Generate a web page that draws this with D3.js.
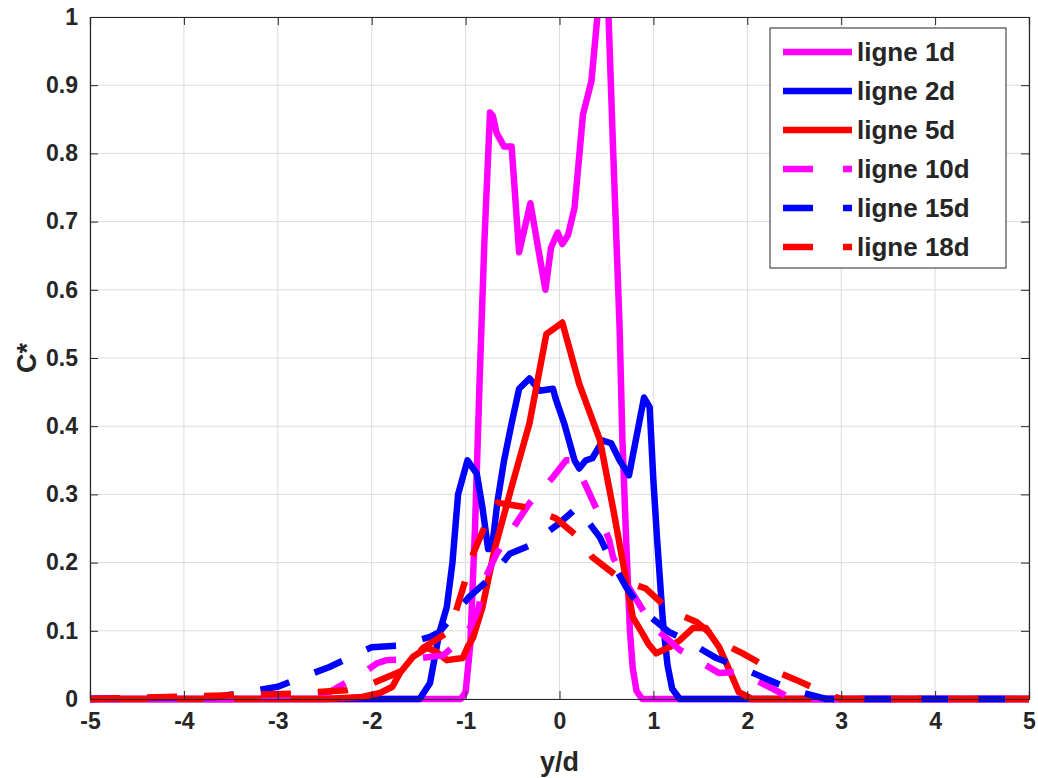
<!DOCTYPE html>
<html><head><meta charset="utf-8">
<script src="https://cdn.jsdelivr.net/npm/d3@7"></script>
<style>body{margin:0;background:#fff}svg{display:block}text{font-family:"Liberation Sans",Arial,sans-serif;font-weight:bold;fill:#262626}</style>
</head><body><svg id="c" width="1038" height="778"></svg>
<script>
const seriesNames = ["ligne 1d","ligne 2d","ligne 5d","ligne 10d","ligne 15d","ligne 18d"];
const seriesColors = ["#ff00ff","#0000ff","#ff0000","#ff00ff","#0000ff","#ff0000"];
const seriesDashed = [false,false,false,true,true,true];

const x1d = [-5,-1.05,-1.0,-0.95,-0.9,-0.85,-0.8,-0.74,-0.71,-0.67,-0.59,-0.51,-0.43,-0.31,-0.15,-0.09,-0.02,0.03,0.09,0.16,0.25,0.34,0.41,0.52,0.57,0.64,0.67,0.71,0.75,0.78,0.82,0.88,5];
const y1d = [0,0,0.01,0.08,0.25,0.47,0.67,0.86,0.855,0.83,0.81,0.81,0.655,0.727,0.6,0.662,0.684,0.667,0.68,0.72,0.857,0.906,1.01,1.01,0.809,0.545,0.38,0.233,0.1,0.045,0.012,0,0];

const x2d = [-5,-1.49,-1.38,-1.28,-1.2,-1.14,-1.08,-0.98,-0.88,-0.82,-0.76,-0.72,-0.66,-0.59,-0.51,-0.43,-0.32,-0.21,-0.07,-0.04,0.05,0.16,0.21,0.28,0.35,0.46,0.55,0.64,0.74,0.9,0.96,1.0,1.04,1.1,1.15,1.2,1.28,5];
const y2d = [0,0,0.023,0.097,0.135,0.2,0.3,0.35,0.33,0.28,0.22,0.22,0.29,0.35,0.404,0.455,0.47,0.452,0.455,0.44,0.404,0.35,0.338,0.35,0.353,0.379,0.375,0.35,0.328,0.442,0.428,0.32,0.233,0.116,0.05,0.015,0,0];

const x5d = [-5,-2.5,-2.1,-1.91,-1.78,-1.7,-1.56,-1.41,-1.31,-1.2,-1.03,-0.98,-0.92,-0.82,-0.69,-0.5,-0.32,-0.14,0.03,0.21,0.43,0.57,0.71,0.78,0.88,0.95,1.03,1.17,1.28,1.42,1.56,1.7,1.81,1.91,2.05,5];
const y5d = [0,0,0.003,0.009,0.018,0.038,0.062,0.075,0.069,0.057,0.06,0.076,0.09,0.135,0.22,0.316,0.404,0.535,0.552,0.462,0.38,0.28,0.174,0.12,0.097,0.08,0.067,0.076,0.086,0.104,0.104,0.076,0.042,0.01,0,0];

const x10d = [-5,-3.5,-3.16,-2.45,-2.05,-1.95,-1.84,-1.6,-1.24,-1.1,-0.95,-0.87,-0.78,-0.67,-0.46,-0.32,-0.07,0.07,0.15,0.28,0.41,0.53,0.57,0.71,0.92,1.05,1.2,1.28,1.38,1.7,1.91,2.23,2.48,5];
const y10d = [0,0,0.003,0.01,0.042,0.052,0.057,0.058,0.064,0.08,0.105,0.13,0.18,0.213,0.258,0.287,0.325,0.35,0.35,0.313,0.274,0.233,0.208,0.17,0.123,0.1,0.082,0.072,0.064,0.038,0.04,0.018,0,0];

const x15d = [-5,-3.65,-3.0,-2.45,-2.0,-1.73,-1.38,-1.28,-0.96,-0.74,-0.53,-0.32,0,0.19,0.43,0.53,0.71,0.88,1.17,1.35,1.67,1.91,2.23,2.48,2.84,5];
const y15d = [0,0.003,0.018,0.047,0.076,0.078,0.091,0.098,0.15,0.177,0.213,0.225,0.258,0.281,0.237,0.208,0.164,0.13,0.098,0.086,0.06,0.047,0.028,0.013,0,0];

const x18d = [-5,-2.8,-2.27,-1.99,-1.7,-1.45,-1.2,-1.1,-0.99,-0.92,-0.78,-0.66,-0.32,-0.04,0.21,0.35,0.67,0.92,1.17,1.46,1.73,1.95,2.27,2.52,2.84,3.0,5];
const y18d = [0,0.008,0.013,0.023,0.04,0.075,0.097,0.13,0.18,0.213,0.258,0.288,0.28,0.265,0.236,0.208,0.174,0.162,0.13,0.113,0.082,0.067,0.042,0.028,0.008,0,0];

const xTicks = [-5,-4,-3,-2,-1,0,1,2,3,4,5];
const yTicks = [0,0.1,0.2,0.3,0.4,0.5,0.6,0.7,0.8,0.9,1];
const xLabel = "y/d", yLabel = "C*";

const seriesX = [x1d,x2d,x5d,x10d,x15d,x18d];
const seriesY = [y1d,y2d,y5d,y10d,y15d,y18d];

const L=90, R=1029, T=17, B=699;
const svg = d3.select("#c");
const x = d3.scaleLinear().domain([-5,5]).range([L,R]);
const y = d3.scaleLinear().domain([0,1]).range([B,T]);
const axisCol = "#262626";

// grid
const g = svg.append("g");
g.selectAll(".gx").data(xTicks).enter().append("line")
  .attr("x1",d=>x(d)).attr("x2",d=>x(d)).attr("y1",T).attr("y2",B)
  .attr("stroke","#dcdcdc").attr("stroke-width",1);
g.selectAll(".gy").data(yTicks).enter().append("line")
  .attr("y1",d=>y(d)).attr("y2",d=>y(d)).attr("x1",L).attr("x2",R)
  .attr("stroke","#dcdcdc").attr("stroke-width",1);

// lines
svg.append("clipPath").attr("id","clip").append("rect").attr("x",L).attr("y",T).attr("width",R-L).attr("height",B-T+6);
const lineGen = d3.line().x(d=>x(d[0])).y(d=>y(d[1]));
const lg = svg.append("g").attr("clip-path","url(#clip)");
seriesNames.forEach((n,i)=>{
  const pts = seriesX[i].map((v,j)=>[v,seriesY[i][j]]);
  lg.append("path").datum(pts).attr("d",lineGen).attr("fill","none")
    .attr("stroke",seriesColors[i]).attr("stroke-width",6.5)
    .attr("stroke-linejoin","round")
    .attr("stroke-dasharray",seriesDashed[i]?"30,27":null);
});

// axes
const ax = d3.axisBottom(x).tickValues(xTicks).tickSize(-8).tickPadding(14).tickFormat(d3.format("d"));
const axG = svg.append("g").attr("transform",`translate(0,${B})`).call(ax);
const axT = svg.append("g").attr("transform",`translate(0,${T})`).call(d3.axisTop(x).tickValues(xTicks).tickSize(-8).tickFormat(""));
const ay = d3.axisLeft(y).tickValues(yTicks).tickSize(-8).tickPadding(12).tickFormat(d=>d===0||d===1?String(d):d3.format(".1f")(d));
const ayG = svg.append("g").attr("transform",`translate(${L},0)`).call(ay);
const ayR = svg.append("g").attr("transform",`translate(${R},0)`).call(d3.axisRight(y).tickValues(yTicks).tickSize(-8).tickFormat(""));
[axG,axT,ayG,ayR].forEach(a=>{
  a.select(".domain").attr("stroke",axisCol).attr("stroke-width",1.2);
  a.selectAll(".tick line").attr("stroke",axisCol).attr("stroke-width",1);
  a.selectAll(".tick text").attr("fill",axisCol).style("font-size","23px").style("font-family","'Liberation Sans',Arial,sans-serif").style("font-weight","bold");
});
axG.selectAll(".tick text").text(d=>d<0?"-"+Math.abs(d):String(d));

svg.append("text").attr("x",(L+R)/2).attr("y",771).attr("text-anchor","middle").style("font-size","27px").text(xLabel);
svg.append("text").attr("transform",`translate(36,${(T+B)/2}) rotate(-90)`).attr("text-anchor","middle").style("font-size","27px").text(yLabel);

// legend
const leg = svg.append("g");
leg.append("rect").attr("x",770).attr("y",28).attr("width",236).attr("height",240).attr("fill","#fff").attr("stroke",axisCol).attr("stroke-width",1);
seriesNames.forEach((n,i)=>{
  const yy = 52 + i*39;
  leg.append("line").attr("x1",783).attr("x2",852).attr("y1",yy).attr("y2",yy)
    .attr("stroke",seriesColors[i]).attr("stroke-width",6.5)
    .attr("stroke-dasharray",seriesDashed[i]?"30,30":null);
  leg.append("text").attr("x",857).attr("y",yy).attr("dy","0.36em").style("font-size","26px").text(n);
});
</script></body></html>
